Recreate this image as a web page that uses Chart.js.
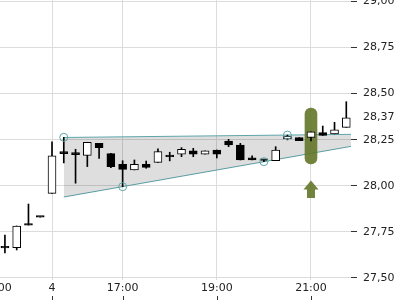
<!DOCTYPE html>
<html>
<head>
<meta charset="utf-8">
<script src="https://cdn.jsdelivr.net/npm/chart.js@4.4.1/dist/chart.umd.min.js"></script>
<style>
  html, body { margin: 0; padding: 0; background: #fff; }
  #wrap { width: 400px; height: 300px; }
</style>
</head>
<body>
<div id="wrap"><canvas id="myChart" width="400" height="300"></canvas></div>
<script>
// 15 min candles, index = slot on the x axis (gap between sessions removed)
const opens  = [27.663, 27.665, 27.787, 27.830, 27.959, 28.185, 28.180, 28.165, 28.230, 28.174,
                28.117, 28.086, 28.117, 28.127, 28.158, 28.171, 28.189, 28.171, 28.194, 28.243,
                28.221, 28.152, 28.138, 28.136, 28.254, 28.261, 28.262, 28.289, 28.281, 28.317];
const highs  = [27.733, 27.782, 27.901, 27.830, 28.239, 28.263, 28.198, 28.236, 28.230, 28.176,
                28.136, 28.140, 28.134, 28.200, 28.182, 28.207, 28.203, 28.189, 28.194, 28.252,
                28.230, 28.162, 28.138, 28.212, 28.275, 28.261, 28.293, 28.324, 28.344, 28.456];
const lows   = [27.636, 27.652, 27.787, 27.830, 27.959, 28.124, 28.014, 28.104, 28.149, 28.098,
                27.995, 28.086, 28.095, 28.127, 28.135, 28.158, 28.158, 28.171, 28.151, 28.212,
                28.140, 28.140, 28.131, 28.136, 28.249, 28.245, 28.243, 28.273, 28.281, 28.317];
const closes = [27.663, 27.782, 27.787, 27.830, 28.162, 28.174, 28.169, 28.236, 28.207, 28.104,
                28.089, 28.117, 28.100, 28.185, 28.158, 28.198, 28.171, 28.189, 28.172, 28.221,
                28.140, 28.140, 28.138, 28.194, 28.270, 28.245, 28.293, 28.273, 28.303, 28.369];

// x axis ticks (slot position) and their labels
const xTickValues = [-0.77, 4, 10, 18, 26];
const xTickLabels = ['21:00', '4', '17:00', '19:00', '21:00'];

// y axis ticks, plus the last price
const yTickValues = [27.5, 27.75, 28.0, 28.25, 28.5, 28.75, 29.0];
const lastPrice = 28.37;

// triangle pattern
const upperLine = [{ x: 5, y: 28.262 }, { x: 29.6, y: 28.279 }];
const lowerLine = [{ x: 5, y: 27.939 }, { x: 29.6, y: 28.216 }];
const touchPoints = [{ x: 5, y: 28.263 }, { x: 10, y: 27.995 }, { x: 22, y: 28.131 }, { x: 24, y: 28.275 }];

// signal marker
const signalSlot = 26;
const signalRange = [28.118, 28.422];
const arrowTop = 28.028;
const arrowBottom = 27.934;

const teal = '#5ea6aa';
const olive = 'rgba(98, 118, 40, 0.9)';

const bodies = opens.map((o, i) => ({ x: i, y: [o, closes[i]] }));
const wicks = lows.map((l, i) => ({ x: i, y: [l, highs[i]] }));
// rising = hollow, falling or flat = filled
const bodyColors = opens.map((o, i) => closes[i] > o ? '#ffffff' : '#000000');

Chart.defaults.font.family = 'DejaVu Sans';
Chart.defaults.font.size = 11;

const arrowPlugin = {
    id: 'signalArrow',
    afterDatasetsDraw(chart) {
        const { ctx, scales: { x, y } } = chart;
        const cx = x.getPixelForValue(signalSlot);
        const top = y.getPixelForValue(arrowTop);
        const bottom = y.getPixelForValue(arrowBottom);
        const headH = 9, headW = 7.5, shaftW = 4;
        ctx.save();
        ctx.fillStyle = olive;
        ctx.beginPath();
        ctx.moveTo(cx, top);
        ctx.lineTo(cx + headW, top + headH);
        ctx.lineTo(cx + shaftW, top + headH);
        ctx.lineTo(cx + shaftW, bottom);
        ctx.lineTo(cx - shaftW, bottom);
        ctx.lineTo(cx - shaftW, top + headH);
        ctx.lineTo(cx - headW, top + headH);
        ctx.closePath();
        ctx.fill();
        ctx.restore();
    },
    afterDraw(chart) {
        // small tick marks under the time labels
        const { ctx, scales: { x } } = chart;
        ctx.save();
        ctx.strokeStyle = '#333';
        ctx.lineWidth = 1;
        x.ticks.forEach(t => {
            const px = Math.round(x.getPixelForValue(t.value)) + 0.5;
            ctx.beginPath();
            ctx.moveTo(px, x.bottom - 4);
            ctx.lineTo(px, x.bottom);
            ctx.stroke();
        });
        ctx.restore();
    }
};

const ctx = document.getElementById('myChart').getContext('2d');

new Chart(ctx, {
    type: 'bar',
    data: {
        datasets: [
            {
                type: 'scatter',
                data: touchPoints,
                order: 0,
                pointRadius: 4,
                pointBorderWidth: 1,
                pointBorderColor: teal,
                pointBackgroundColor: 'rgba(0,0,0,0)'
            },
            {
                type: 'bar',
                data: bodies,
                order: 1,
                grouped: false,
                barThickness: 8,
                backgroundColor: bodyColors,
                borderColor: '#000',
                borderWidth: 1,
                borderSkipped: false,
                minBarLength: 1.5
            },
            {
                type: 'bar',
                data: wicks,
                order: 2,
                grouped: false,
                barThickness: 1,
                backgroundColor: '#000',
                borderWidth: 0
            },
            {
                type: 'bar',
                data: [{ x: signalSlot, y: signalRange }],
                order: 3,
                grouped: false,
                barThickness: 12,
                backgroundColor: olive,
                borderWidth: 0,
                borderSkipped: false,
                borderRadius: 6
            },
            {
                type: 'line',
                data: upperLine,
                order: 4,
                borderColor: teal,
                borderWidth: 1,
                pointRadius: 0,
                fill: '+1',
                backgroundColor: 'rgba(0,0,0,0.13)'
            },
            {
                type: 'line',
                data: lowerLine,
                order: 5,
                borderColor: teal,
                borderWidth: 1,
                pointRadius: 0,
                fill: false
            }
        ]
    },
    options: {
        responsive: false,
        animation: false,
        devicePixelRatio: 1,
        layout: { padding: 0, autoPadding: false },
        plugins: {
            legend: { display: false },
            tooltip: { enabled: false }
        },
        scales: {
            x: {
                type: 'linear',
                bounds: 'data',
                offset: false,
                min: -0.418,
                max: 29.4,
                border: { display: false },
                grid: { color: '#dcdcdc', drawTicks: false, offset: false },
                ticks: {
                    autoSkip: false,
                    maxRotation: 0,
                    minRotation: 0,
                    padding: 2,
                    color: '#222',
                    callback: (v, i) => xTickLabels[i]
                },
                afterBuildTicks: s => { s.ticks = xTickValues.map(v => ({ value: v })); },
                afterFit: s => { s.height = 20; s.paddingLeft = 0; s.paddingRight = 0; }
            },
            y: {
                type: 'linear',
                position: 'right',
                bounds: 'data',
                min: 27.489,
                max: 29.0076,
                border: { display: false },
                grid: {
                    color: c => (c.tick && c.tick.value === lastPrice) ? 'rgba(0,0,0,0)' : '#dcdcdc',
                    tickColor: c => (c.tick && c.tick.value === lastPrice) ? 'rgba(0,0,0,0)' : '#333',
                    tickLength: 6
                },
                ticks: {
                    padding: 6,
                    color: '#222',
                    callback: v => v.toFixed(2).replace('.', ',')
                },
                afterBuildTicks: s => {
                    s.ticks = yTickValues.concat([lastPrice]).sort((a, b) => a - b).map(v => ({ value: v }));
                },
                afterFit: s => { s.width = 49; s.paddingTop = 0; s.paddingBottom = 0; }
            }
        }
    },
    plugins: [arrowPlugin]
});
</script>
</body>
</html>
